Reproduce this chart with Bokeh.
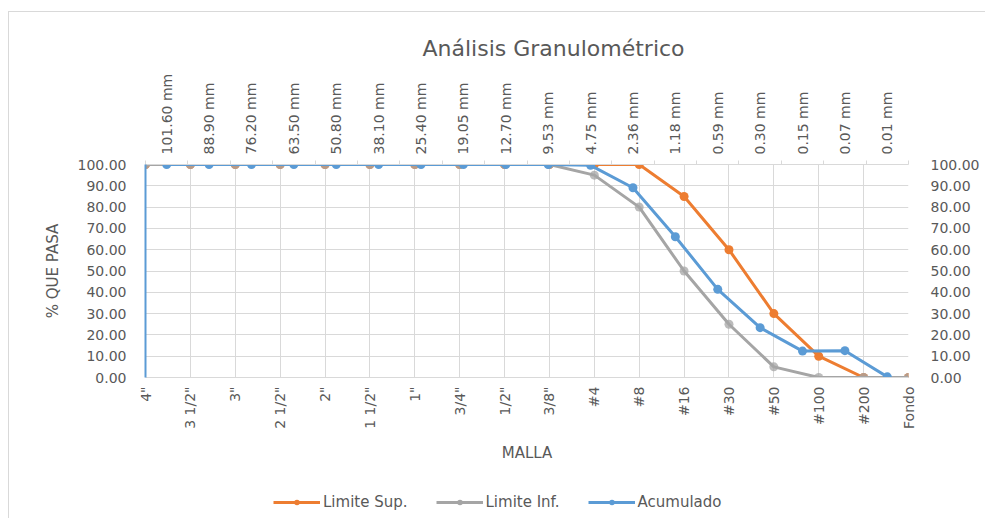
import math
from bokeh.plotting import figure
from bokeh.layouts import column
from bokeh.models import (Range1d, LinearAxis, FixedTicker, NumeralTickFormatter,
                          Legend, LegendItem)
from bokeh.embed import file_html
from bokeh.resources import INLINE

# ---------------- data ----------------
mallas = ['4"', '3 1/2"', '3"', '2 1/2"', '2"', '1 1/2"', '1"', '3/4"', '1/2"', '3/8"',
          '#4', '#8', '#16', '#30', '#50', '#100', '#200', 'Fondo']
aberturas = ["101.60 mm", "88.90 mm", "76.20 mm", "63.50 mm", "50.80 mm", "38.10 mm",
             "25.40 mm", "19.05 mm", "12.70 mm", "9.53 mm", "4.75 mm", "2.36 mm",
             "1.18 mm", "0.59 mm", "0.30 mm", "0.15 mm", "0.07 mm", "0.01 mm"]
limite_sup = [100, 100, 100, 100, 100, 100, 100, 100, 100, 100,
              100, 100, 85, 60, 30, 10, 0, 0]
limite_inf = [100, 100, 100, 100, 100, 100, 100, 100, 100, 100,
              95, 80, 50, 25, 5, 0, 0, 0]
acumulado = [100, 100, 100, 100, 100, 100, 100, 100, 100, 100,
             99.6, 89.1, 66.1, 41.4, 23.4, 12.4, 12.6, 0.3]
y_ticks = [0, 10, 20, 30, 40, 50, 60, 70, 80, 90, 100]
series_names = ["Limite Sup.", "Limite Inf.", "Acumulado"]

ORANGE = "#ED7D31"
GRAY = "#A5A5A5"
BLUE = "#5B9BD5"
TXT = "#595959"
GRID = "#D9D9D9"
FONT = "DejaVu Sans"

n_bot = len(mallas)
n_top = len(aberturas)
x_bot = list(range(n_bot))
x_top = [i + 0.5 for i in range(n_top)]

p = figure(width=976, height=456, output_backend="svg", toolbar_location=None,
           x_range=Range1d(0, n_bot - 1), y_range=Range1d(0, 100),
           min_border_left=136, min_border_right=77, min_border_top=152,
           min_border_bottom=91,
           title="Análisis Granulométrico")
p.extra_x_ranges = {"x2": Range1d(0, n_top)}
p.extra_y_ranges = {"y2": Range1d(0, 100)}
p.outline_line_color = None
p.background_fill_color = "white"
p.border_fill_color = "white"

p.title.text_font = FONT
p.title.text_font_size = "22px"
p.title.text_font_style = "normal"
p.title.text_color = TXT
p.title.align = "left"
p.title.offset = 277
p.title.standoff = 19

# bottom axis (malla)
xa = p.xaxis[0]
xa.ticker = FixedTicker(ticks=x_bot)
xa.major_label_overrides = {i: mallas[i] for i in x_bot}
xa.major_label_orientation = math.pi / 2
xa.major_tick_out = 0
xa.major_tick_in = 0
xa.minor_tick_out = 0
xa.minor_tick_in = 0
xa.axis_line_color = GRID
xa.major_label_standoff = 9
xa.axis_label = "MALLA"
xa.axis_label_standoff = 12

# left axis
ya = p.yaxis[0]
ya.ticker = FixedTicker(ticks=y_ticks)
ya.formatter = NumeralTickFormatter(format="0.00")
ya.major_tick_out = 0
ya.major_tick_in = 0
ya.minor_tick_out = 0
ya.minor_tick_in = 0
ya.axis_line_color = BLUE
ya.axis_line_width = 2
ya.major_label_standoff = 19
ya.axis_label = "% QUE PASA"
ya.axis_label_standoff = 13

# top axis (aberturas)
ta = LinearAxis(x_range_name="x2",
                ticker=FixedTicker(ticks=x_top, minor_ticks=list(range(n_top + 1))))
ta.major_label_overrides = {x_top[i]: aberturas[i] for i in range(n_top)}
ta.major_label_orientation = math.pi / 2
ta.major_tick_out = 0
ta.major_tick_in = 0
ta.minor_tick_out = 4
ta.minor_tick_in = 0
ta.minor_tick_line_color = GRID
ta.axis_line_color = GRID
ta.major_label_standoff = 6
p.add_layout(ta, "above")

# right axis
ra = LinearAxis(y_range_name="y2", ticker=FixedTicker(ticks=y_ticks),
                formatter=NumeralTickFormatter(format="0.00"))
ra.major_tick_out = 0
ra.major_tick_in = 0
ra.minor_tick_out = 0
ra.minor_tick_in = 0
ra.axis_line_color = None
ra.major_label_standoff = 22
p.add_layout(ra, "right")

for ax in [xa, ya, ta, ra]:
    ax.major_label_text_font = FONT
    ax.major_label_text_font_size = "14px"
    ax.major_label_text_color = TXT
    ax.axis_label_text_font = FONT
    ax.axis_label_text_font_size = "15px"
    ax.axis_label_text_font_style = "normal"
    ax.axis_label_text_color = TXT

p.xgrid.ticker = FixedTicker(ticks=x_bot)
p.ygrid.ticker = FixedTicker(ticks=y_ticks)
p.xgrid.grid_line_color = GRID
p.ygrid.grid_line_color = GRID

# series
p.line(x_bot, limite_sup, line_color=ORANGE, line_width=3)
p.scatter(x_bot, limite_sup, marker="circle", size=9, fill_color=ORANGE, line_color=None)
p.line(x_bot, limite_inf, line_color=GRAY, line_width=3)
p.scatter(x_bot, limite_inf, marker="circle", size=9, fill_color=GRAY,
          fill_alpha=0.75, line_color=None)
p.line(x_top, acumulado, line_color=BLUE, line_width=3,
       x_range_name="x2", y_range_name="y2")
p.scatter(x_top, acumulado, marker="circle", size=9, fill_color=BLUE,
          line_color=None, x_range_name="x2", y_range_name="y2")

# legend strip (separate figure below the chart; glyphs carry no drawable data)
pl = figure(width=976, height=50, output_backend="svg", toolbar_location=None,
            x_range=Range1d(0, 1), y_range=Range1d(0, 1), min_border=0)
pl.axis.visible = False
pl.grid.visible = False
pl.outline_line_color = None
nan = float("nan")
items = []
for name, col in zip(series_names, [ORANGE, GRAY, BLUE]):
    lr = pl.line([nan], [nan], line_color=col, line_width=3)
    sr = pl.scatter([nan], [nan], marker="circle", size=6, fill_color=col,
                    line_color=None)
    items.append(LegendItem(label=name, renderers=[lr, sr]))
legend = Legend(items=items, orientation="horizontal", location=(128, 7),
                glyph_width=47, glyph_height=14, label_standoff=3, spacing=28,
                padding=0, margin=0, border_line_color=None,
                background_fill_alpha=0,
                label_text_font=FONT, label_text_font_size="15px",
                label_text_color=TXT)
pl.add_layout(legend)

layout = column(p, pl, spacing=0, margin=(11, 0, 0, 8),
                styles={"border-top": "1px solid #D9D9D9",
                        "border-left": "1px solid #D9D9D9"})
open("out.html", "w").write(file_html(layout, INLINE))
